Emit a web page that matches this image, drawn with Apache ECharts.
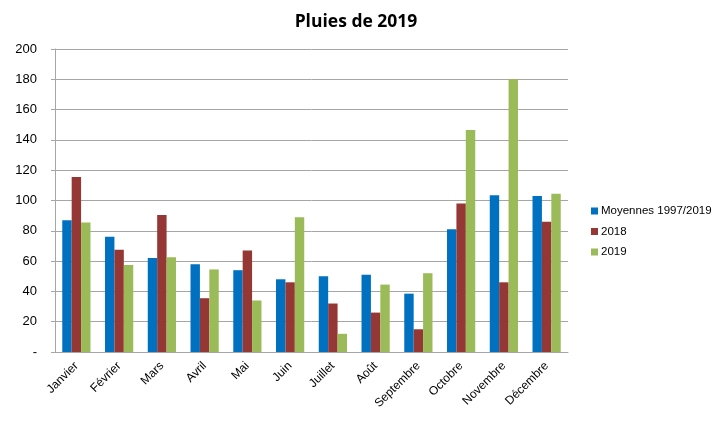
<!DOCTYPE html>
<html><head><meta charset="utf-8">
<script src="https://cdn.jsdelivr.net/npm/echarts@6/dist/echarts.min.js"></script>
<style>html,body{margin:0;padding:0;background:#fff}#c{width:717px;height:425px}</style>
</head><body><div id="c"></div>
<script>
var categories = ['Janvier','Février','Mars','Avril','Mai','Juin','Juillet','Août','Septembre','Octobre','Novembre','Décembre'];
var moyennes = [87, 76, 62, 58, 54, 48, 50, 51, 38.5, 81, 103.5, 103];
var pluies2018 = [115.5, 67.5, 90.5, 35.5, 67, 46, 32, 26, 15, 98, 46, 86];
var pluies2019 = [85.5, 57.5, 62.5, 54.5, 34, 89, 12, 44.5, 52, 146.5, 180, 104.5];
var seriesNames = ['Moyennes 1997/2019', '2018', '2019'];
var colors = ['#0070C0', '#953735', '#9BBB59'];

var font = 'Liberation Sans, Arial, sans-serif';
var chart = echarts.init(document.getElementById('c'));
function mk(name, data, color) {
  return { name: name, type: 'bar', data: data, barGap: '0%', barCategoryGap: '34%',
    itemStyle: { color: color }, emphasis: { disabled: true } };
}
chart.setOption({
  animation: false,
  title: { text: 'Pluies de 2019', left: 351, top: 8, textAlign: 'center',
    textStyle: { fontFamily: 'Open Sans, sans-serif', fontWeight: 'bold', fontSize: 17.5, color: '#000' } },
  legend: { orient: 'vertical', left: 586, top: 200, itemWidth: 7, itemHeight: 7, itemGap: 8.5,
    icon: 'rect', textStyle: { fontFamily: font, fontSize: 11.5, color: '#000', padding: [0,0,0,-2] },
    data: seriesNames },
  grid: { left: 55, right: 149, top: 49, bottom: 73, containLabel: false },
  xAxis: { type: 'category', data: categories,
    axisLine: { lineStyle: { color: '#A6A6A6', width: 1 } },
    axisTick: { show: false },
    axisLabel: { rotate: 45, margin: 12, interval: 0, fontFamily: font, fontSize: 12, color: '#000' } },
  yAxis: { type: 'value', min: 0, max: 200, interval: 20,
    axisLine: { show: true, lineStyle: { color: '#A6A6A6' } },
    axisTick: { show: true, length: 4, inside: false, lineStyle: { color: '#A6A6A6' } },
    splitLine: { lineStyle: { color: '#A6A6A6' } },
    axisLabel: { margin: 18, fontFamily: font, fontSize: 13, color: '#000',
      formatter: function (v) { return v === 0 ? '-' : v; } } },
  series: [mk(seriesNames[0], moyennes, colors[0]), mk(seriesNames[1], pluies2018, colors[1]), mk(seriesNames[2], pluies2019, colors[2])]
});
</script></body></html>
